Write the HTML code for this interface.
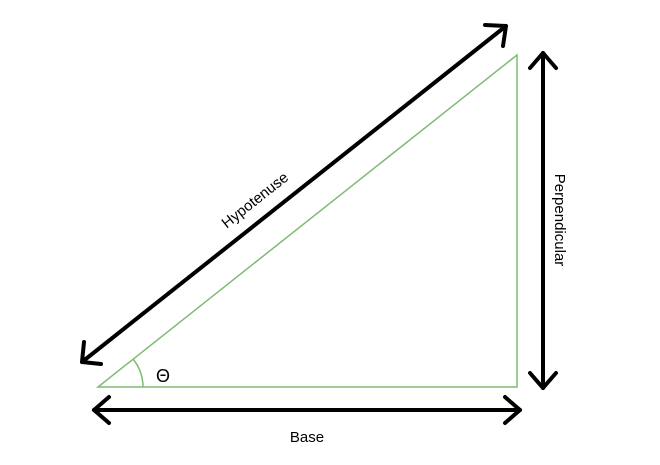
<!DOCTYPE html>
<html><head><meta charset="utf-8"><style>
html,body{margin:0;padding:0;background:#fff;}
svg{display:block;font-family:"Liberation Sans",sans-serif;}
</style></head><body>
<svg width="660" height="465" viewBox="0 0 660 465">
<polygon points="98,387 517,387 517,55" fill="none" stroke="#7dbb72" stroke-width="1.5"/>
<path d="M143,387 A45,45 0 0 0 133.5,359.5" fill="none" stroke="#7dbb72" stroke-width="1.5"/>
<text x="163" y="382" font-size="18" text-anchor="middle">Θ</text>
<g stroke="#000" stroke-width="4" fill="none" stroke-linecap="round" stroke-linejoin="round">
<g>
<line x1="82" y1="362" x2="506" y2="26"/>
<polyline points="84,342 82,362 101,364"/>
<polyline points="485,25 506,26 503,46"/>
</g>
<g>
<line x1="543" y1="53" x2="543" y2="388"/>
<polyline points="530,68 543,53 556,68"/>
<polyline points="530,373 543,388 556,373"/>
</g>
<g>
<line x1="94" y1="410" x2="520" y2="410"/>
<polyline points="109,397 94,410 109,423"/>
<polyline points="505,397 520,410 505,423"/>
</g>
</g>
<text x="258" y="204" font-size="15" text-anchor="middle" transform="rotate(-38.4 258 204)">Hypotenuse</text>
<text x="220" y="-555" font-size="15" text-anchor="middle" transform="rotate(90)">Perpendicular</text>
<text x="307" y="442" font-size="15" text-anchor="middle">Base</text>
</svg>
</body></html>
